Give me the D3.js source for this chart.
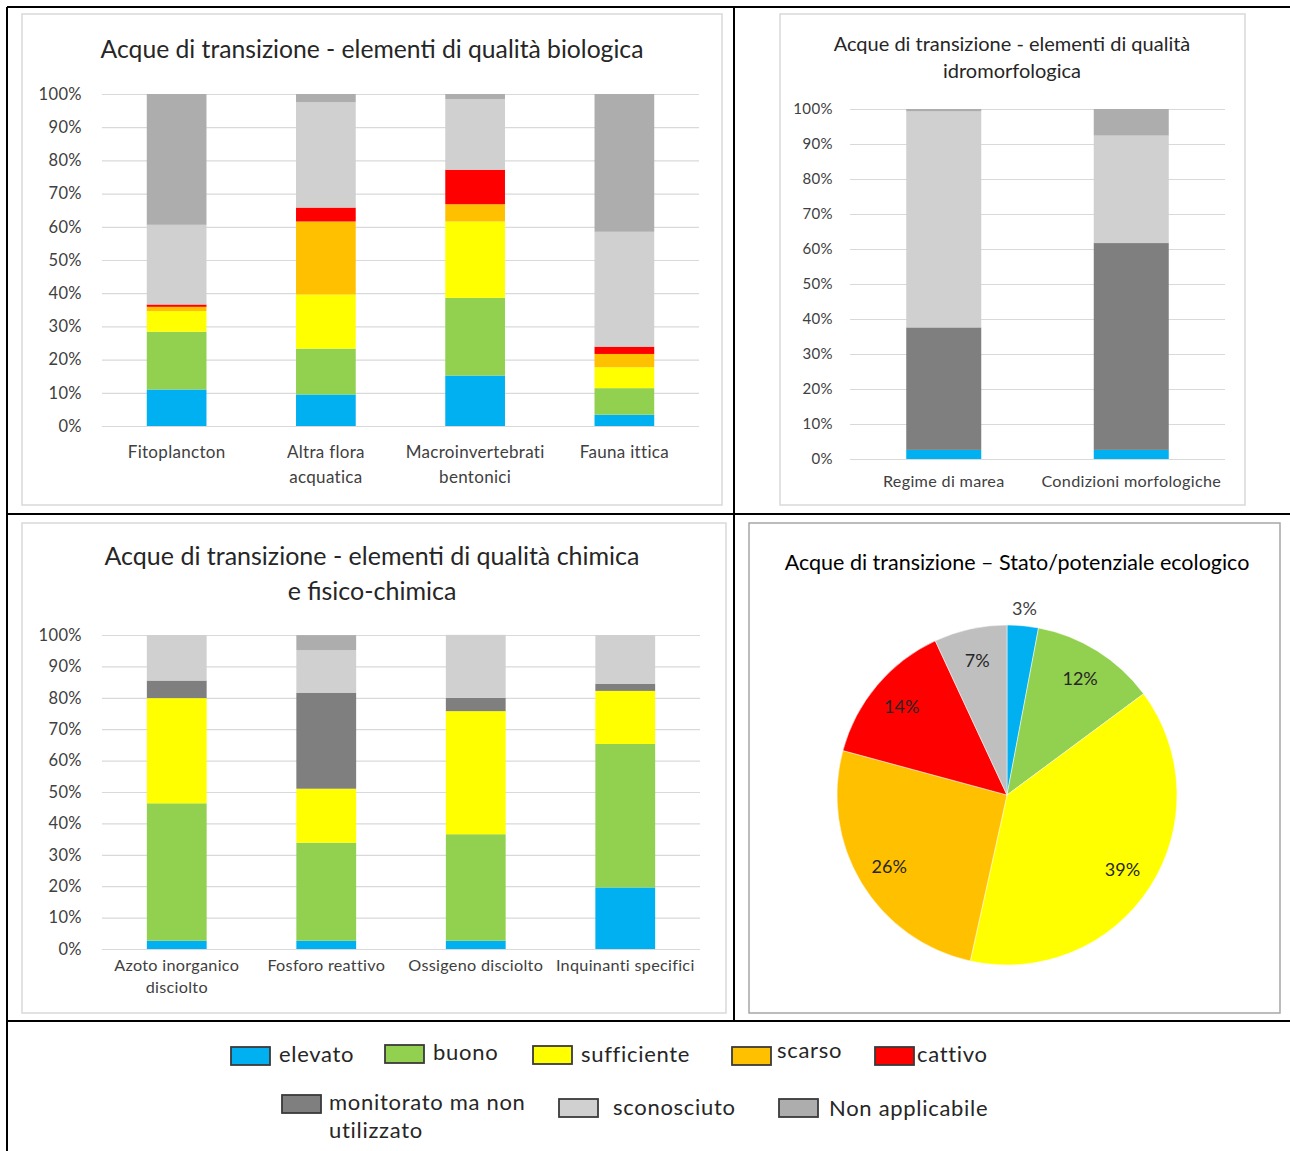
<!DOCTYPE html>
<html>
<head>
<meta charset="utf-8">
<script src="https://cdn.jsdelivr.net/npm/d3@7"></script>
<style>
  body { margin: 0; background: #fff; }
  svg { display: block; font-family: Lato, "Open Sans", sans-serif; }
</style>
</head>
<body>
<svg id="page" width="1290" height="1151"></svg>
<script>
// Quality classes (shared by all charts)
const levels = ["elevato", "buono", "sufficiente", "scarso", "cattivo",
  "monitorato ma non utilizzato", "sconosciuto", "Non applicabile"];
const levelColors = ["#00b0f0", "#92d050", "#ffff00", "#ffc000", "#ff0000",
  "#7f7f7f", "#d0d0d0", "#adadad"];

// Biological quality elements (%)
const bioCategories = ["Fitoplancton", "Altra flora acquatica", "Macroinvertebrati bentonici", "Fauna ittica"];
const bioTickLabels = [["Fitoplancton"], ["Altra flora", "acquatica"], ["Macroinvertebrati", "bentonici"], ["Fauna ittica"]];
const bioElevato = [11.0, 9.5, 15.2, 3.4];
const bioBuono = [17.4, 13.8, 23.4, 8.0];
const bioSufficiente = [6.2, 16.3, 23.0, 6.3];
const bioScarso = [1.3, 22.0, 5.2, 4.0];
const bioCattivo = [0.7, 4.2, 10.4, 2.2];
const bioMonitorato = [0, 0, 0, 0];
const bioSconosciuto = [24.0, 31.7, 21.3, 34.6];
const bioNonApplicabile = [39.4, 2.5, 1.5, 41.5];

// Hydromorphological quality elements (%)
const hydroCategories = ["Regime di marea", "Condizioni morfologiche"];
const hydroTickLabels = [["Regime di marea"], ["Condizioni morfologiche"]];
const hydroElevato = [2.6, 2.6];
const hydroMonitorato = [35.0, 59.1];
const hydroSconosciuto = [61.7, 30.7];
const hydroNonApplicabile = [0.7, 7.6];

// Chemical and physico-chemical quality elements (%)
const chemCategories = ["Azoto inorganico disciolto", "Fosforo reattivo", "Ossigeno disciolto", "Inquinanti specifici"];
const chemTickLabels = [["Azoto inorganico", "disciolto"], ["Fosforo reattivo"], ["Ossigeno disciolto"], ["Inquinanti specifici"]];
const chemElevato = [2.65, 2.65, 2.65, 19.6];
const chemBuono = [43.75, 31.2, 33.9, 45.7];
const chemSufficiente = [33.5, 17.2, 39.2, 16.9];
const chemMonitorato = [5.6, 30.6, 4.2, 2.2];
const chemSconosciuto = [14.5, 13.5, 20.1, 15.6];
const chemNonApplicabile = [0, 4.8, 0, 0];

// Ecological status / potential (%)
const pieLabels = ["elevato", "buono", "sufficiente", "scarso", "cattivo", "sconosciuto"];
const pieValues = [3, 12, 39, 26, 14, 7];
const pieColors = ["#00b0f0", "#92d050", "#ffff00", "#ffc000", "#ff0000", "#bfbfbf"];

const svg = d3.select("#page");
const color = d3.scaleOrdinal().domain(levels).range(levelColors);

// table frame (black lines)
const frame = svg.append("g").attr("stroke", "#000").attr("stroke-width", 2);
[[7, 7, 1290, 7], [7, 7, 7, 1151], [734, 7, 734, 1021], [7, 514, 1290, 514], [7, 1021, 1290, 1021]]
  .forEach(l => frame.append("line").attr("x1", l[0]).attr("y1", l[1]).attr("x2", l[2]).attr("y2", l[3]));

function panel(x, y, w, h, stroke) {
  svg.append("rect").attr("x", x).attr("y", y).attr("width", w).attr("height", h)
    .attr("fill", "#fff").attr("stroke", stroke).attr("stroke-width", 1.5);
}
panel(22, 14, 700, 491, "#d9d9d9");
panel(780, 14, 465, 491, "#d9d9d9");
panel(22, 523, 704, 490, "#d9d9d9");
panel(749, 523, 531, 490, "#a6a6a6");

function stackedChart(opt) {
  const rows = opt.categories.map((c, i) => {
    const r = { category: c };
    levels.forEach(k => { r[k] = opt.series[k] ? opt.series[k][i] : 0; });
    return r;
  });
  const stacked = d3.stack().keys(levels)(rows);

  const x = d3.scaleBand().domain(opt.categories).range([opt.left, opt.right]).paddingInner(opt.pad).paddingOuter(opt.pad / 2);
  const y = d3.scaleLinear().domain([0, 100]).range([opt.bottom, opt.top]);

  const g = svg.append("g");

  // gridlines + y labels
  const yAxis = g.append("g")
    .attr("transform", `translate(${opt.left},0)`)
    .call(d3.axisLeft(y).tickValues(d3.range(0, 101, 10))
      .tickSize(-(opt.right - opt.left)).tickPadding(opt.tickPad)
      .tickFormat(d => d + "%"));
  yAxis.select(".domain").remove();
  yAxis.selectAll("line").attr("stroke", "#d9d9d9").attr("stroke-width", 1.2);
  yAxis.selectAll("text").attr("fill", "#404040").style("font-size", opt.tickFont + "px")
    .style("font-family", "Lato, sans-serif").style("letter-spacing", "0.4px");

  g.selectAll(".layer")
    .data(stacked)
    .join("g")
    .attr("fill", d => color(d.key))
    .selectAll("rect")
    .data(d => d)
    .join("rect")
    .attr("x", d => x(d.data.category))
    .attr("y", d => y(d[1]))
    .attr("width", x.bandwidth())
    .attr("height", d => y(d[0]) - y(d[1]));

  // category labels
  opt.categories.forEach((c, i) => {
    const t = g.append("text")
      .attr("x", x(c) + x.bandwidth() / 2)
      .attr("y", opt.labelY)
      .attr("text-anchor", "middle")
      .attr("fill", "#404040")
      .style("font-size", opt.labelFont + "px")
      .style("letter-spacing", "0.3px");
    opt.tickLabels[i].forEach((line, j) => {
      t.append("tspan").attr("x", x(c) + x.bandwidth() / 2).attr("dy", j === 0 ? 0 : opt.labelLine).text(line);
    });
  });

  // title
  const title = g.append("text")
    .attr("x", opt.titleX).attr("y", opt.titleY)
    .attr("text-anchor", "middle").attr("fill", "#262626")
    .style("font-size", opt.titleFont + "px");
  opt.title.forEach((line, j) => {
    title.append("tspan").attr("x", opt.titleX).attr("dy", j === 0 ? 0 : opt.titleLine).text(line);
  });
}

stackedChart({
  categories: bioCategories, tickLabels: bioTickLabels,
  series: { "elevato": bioElevato, "buono": bioBuono, "sufficiente": bioSufficiente, "scarso": bioScarso,
    "cattivo": bioCattivo, "monitorato ma non utilizzato": bioMonitorato, "sconosciuto": bioSconosciuto,
    "Non applicabile": bioNonApplicabile },
  left: 102, right: 699, top: 94, bottom: 426, pad: 0.6, tickPad: 20, tickFont: 16.5,
  labelY: 458, labelLine: 25, labelFont: 17,
  title: ["Acque di transizione - elementi di qualità biologica"], titleX: 372, titleY: 58, titleFont: 24.7, titleLine: 0
});

stackedChart({
  categories: hydroCategories, tickLabels: hydroTickLabels,
  series: { "elevato": hydroElevato, "monitorato ma non utilizzato": hydroMonitorato,
    "sconosciuto": hydroSconosciuto, "Non applicabile": hydroNonApplicabile },
  left: 850, right: 1225, top: 109, bottom: 459, pad: 0.6, tickPad: 17, tickFont: 15,
  labelY: 487, labelLine: 20, labelFont: 16.2,
  title: ["Acque di transizione - elementi di qualità", "idromorfologica"], titleX: 1012, titleY: 51, titleFont: 20, titleLine: 27
});

stackedChart({
  categories: chemCategories, tickLabels: chemTickLabels,
  series: { "elevato": chemElevato, "buono": chemBuono, "sufficiente": chemSufficiente,
    "monitorato ma non utilizzato": chemMonitorato, "sconosciuto": chemSconosciuto,
    "Non applicabile": chemNonApplicabile },
  left: 102, right: 700, top: 635, bottom: 949, pad: 0.6, tickPad: 20, tickFont: 16.5,
  labelY: 971, labelLine: 22, labelFont: 16.2,
  title: ["Acque di transizione - elementi di qualità chimica", "e fisico-chimica"], titleX: 372, titleY: 565, titleFont: 25, titleLine: 35
});

// Pie chart
const pieG = svg.append("g").attr("transform", "translate(1007,795)");
const R = 170;
const pie = d3.pie().sort(null).value(d => d.value);
const arcs = pie(pieLabels.map((l, i) => ({ label: l, value: pieValues[i], color: pieColors[i] })));
const arc = d3.arc().innerRadius(0).outerRadius(R);
pieG.selectAll("path").data(arcs).join("path")
  .attr("d", arc).attr("fill", d => d.data.color)
  .attr("stroke", "#fff").attr("stroke-width", 0.5);
const labelArc = d3.arc().innerRadius(R * 0.81).outerRadius(R * 0.81);
const outerArc = d3.arc().innerRadius(R * 1.1).outerRadius(R * 1.1);
pieG.selectAll("text").data(arcs).join("text")
  .attr("transform", d => `translate(${(d.data.value < 5 ? outerArc : labelArc).centroid(d)})`)
  .attr("text-anchor", "middle").attr("dy", "0.35em")
  .attr("fill", d => d.data.value < 5 ? "#404040" : "#262626")
  .style("font-size", "18px")
  .text(d => d.data.value + "%");
svg.append("text").attr("x", 1017).attr("y", 570).attr("text-anchor", "middle")
  .attr("fill", "#000").style("font-size", "21.5px")
  .text("Acque di transizione \u2013 Stato/potenziale ecologico");

// Legend
const legendItems = [
  { key: "elevato", x: 231, y: 1047, lines: ["elevato"], tx: 279, ty: 1062 },
  { key: "buono", x: 385, y: 1045, lines: ["buono"], tx: 433, ty: 1060 },
  { key: "sufficiente", x: 533, y: 1046, lines: ["sufficiente"], tx: 581, ty: 1062 },
  { key: "scarso", x: 732, y: 1047, lines: ["scarso"], tx: 777, ty: 1058 },
  { key: "cattivo", x: 875, y: 1047, lines: ["cattivo"], tx: 917, ty: 1062 },
  { key: "monitorato ma non utilizzato", x: 282, y: 1095, lines: ["monitorato ma non", "utilizzato"], tx: 329, ty: 1110 },
  { key: "sconosciuto", x: 559, y: 1099, lines: ["sconosciuto"], tx: 613, ty: 1115 },
  { key: "Non applicabile", x: 779, y: 1099, lines: ["Non applicabile"], tx: 829, ty: 1116 }
];
const lg = svg.append("g");
legendItems.forEach(it => {
  lg.append("rect").attr("x", it.x).attr("y", it.y).attr("width", 39).attr("height", 18)
    .attr("fill", color(it.key)).attr("stroke", "#3a3a3a").attr("stroke-width", 1.8);
  const t = lg.append("text").attr("x", it.tx).attr("y", it.ty).attr("fill", "#262626")
    .style("font-size", "22px").style("letter-spacing", "0.7px");
  it.lines.forEach((line, j) => t.append("tspan").attr("x", it.tx).attr("dy", j === 0 ? 0 : 28).text(line));
});
</script>
</body>
</html>
